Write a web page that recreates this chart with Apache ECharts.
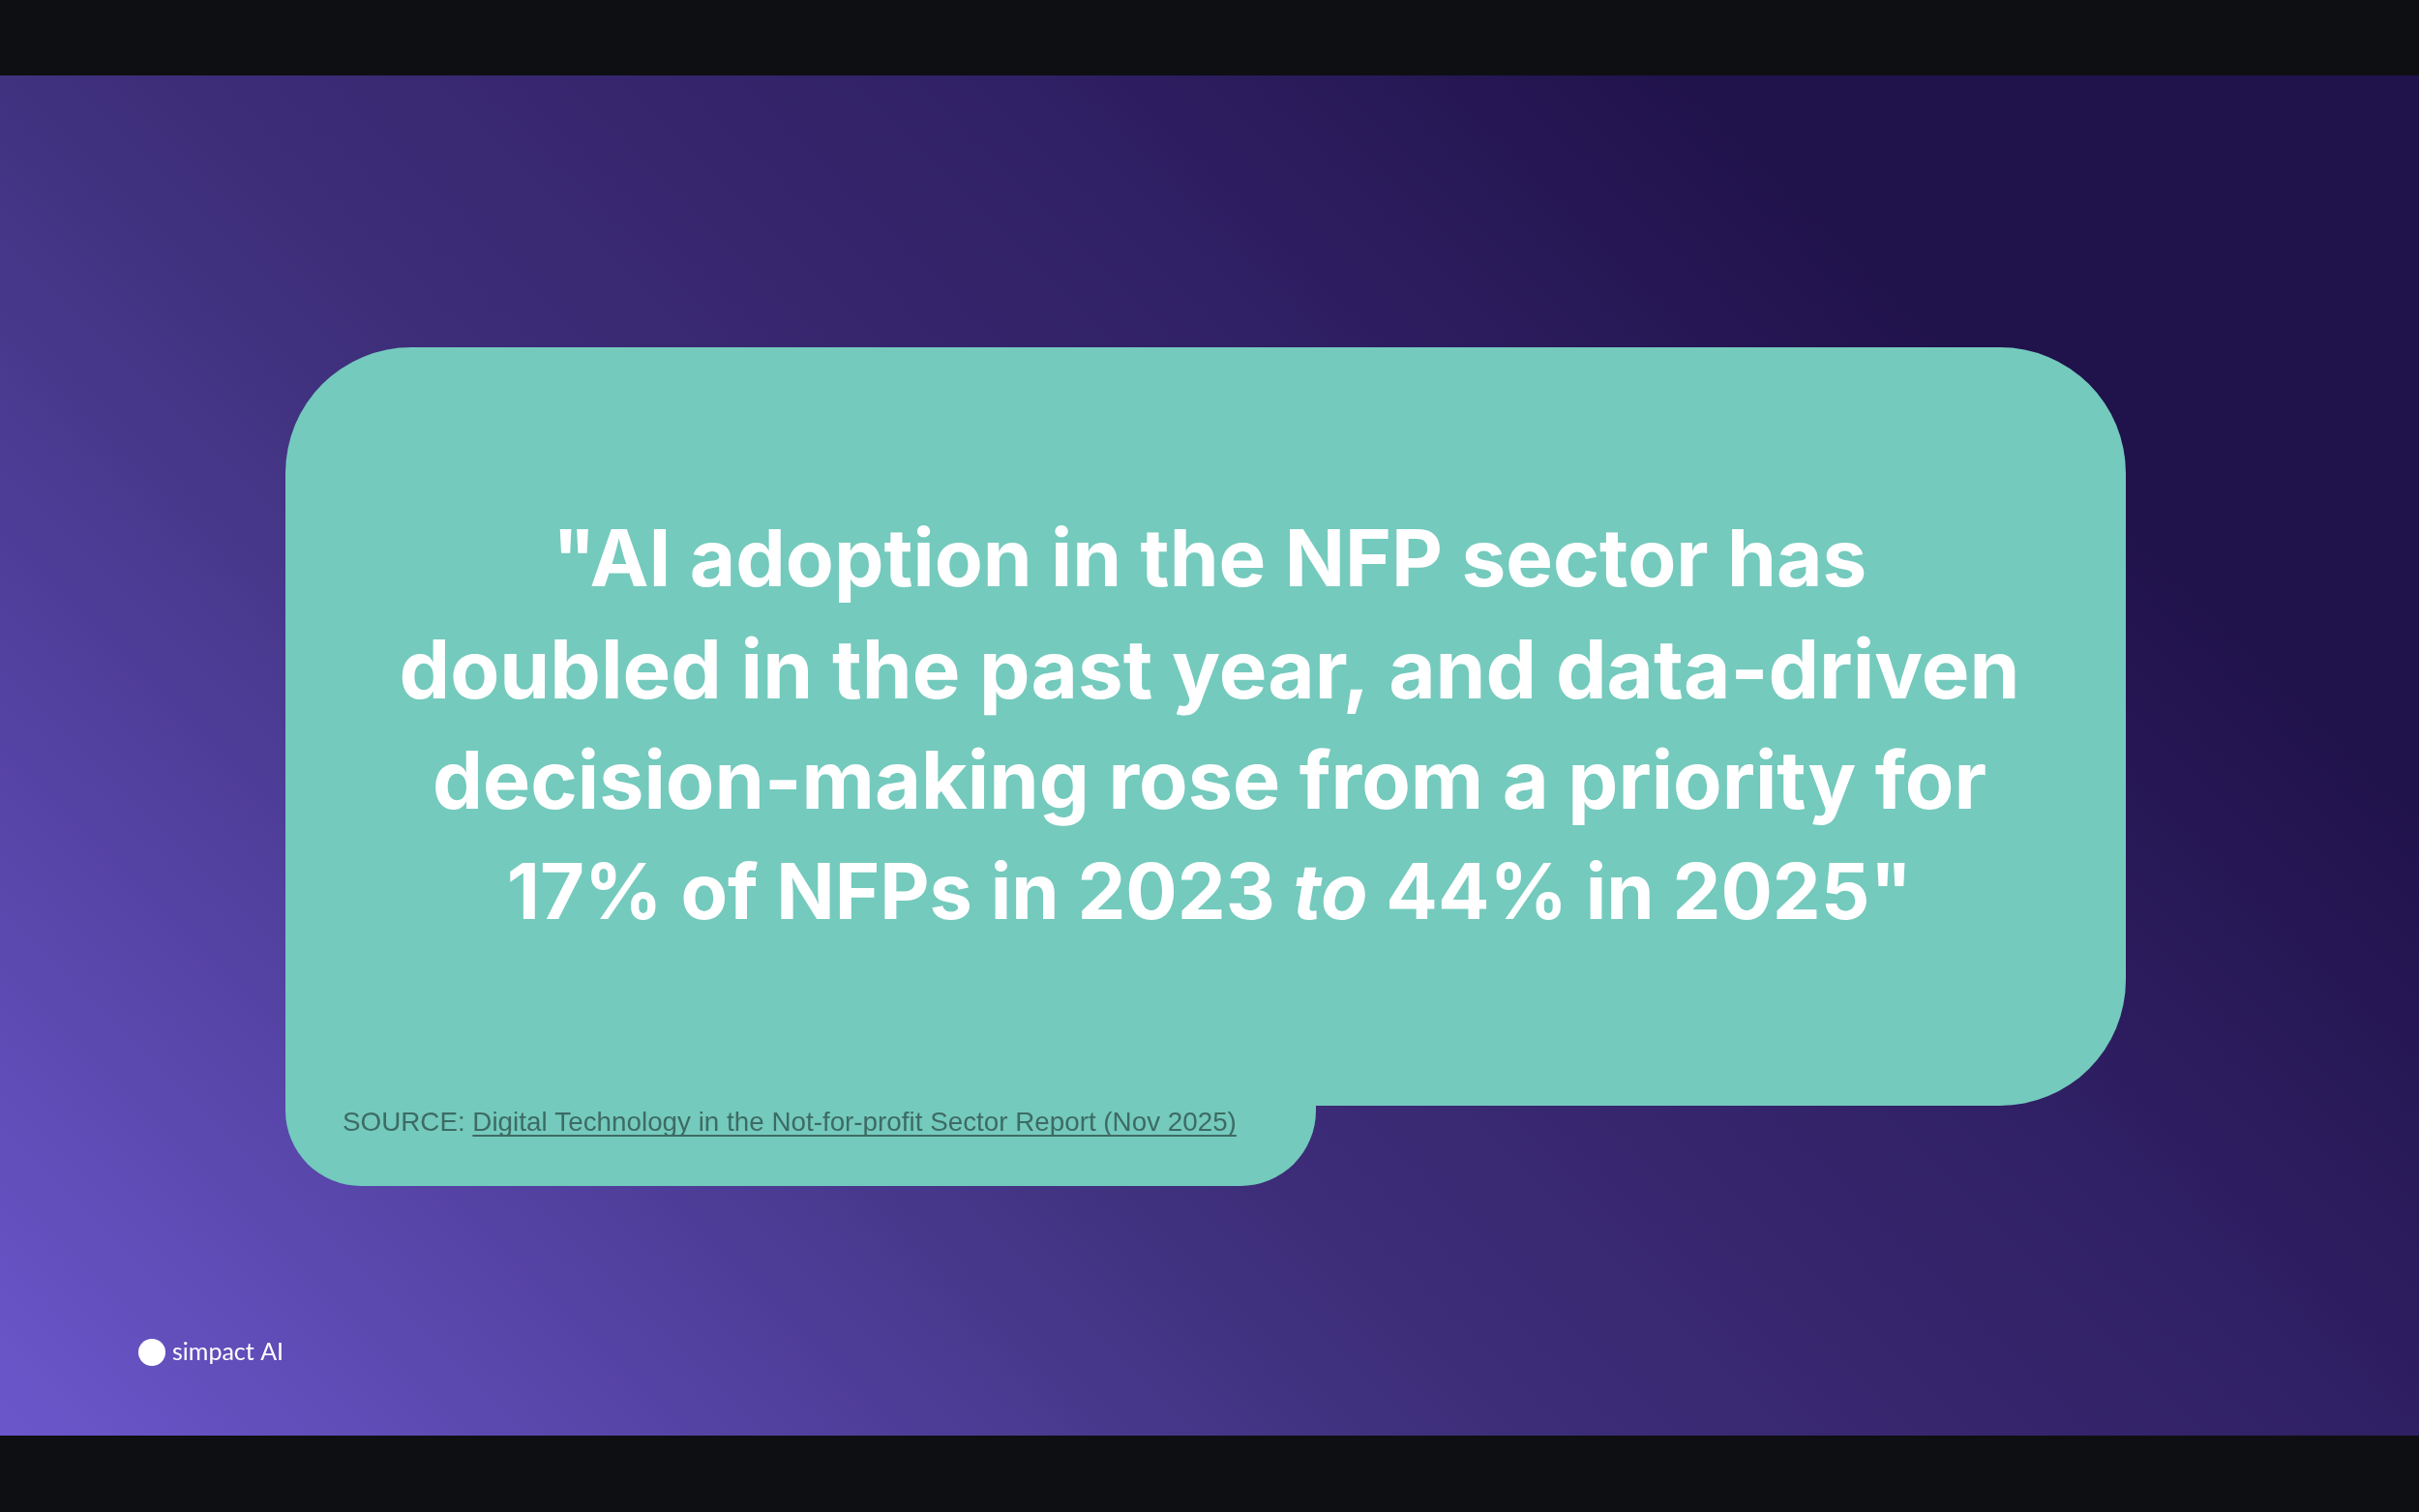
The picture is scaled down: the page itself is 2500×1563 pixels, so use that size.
<!DOCTYPE html>
<html>
<head>
<meta charset="utf-8">
<script src="https://cdn.jsdelivr.net/npm/echarts@6/dist/echarts.min.js"></script>
<style>
html,body{margin:0;padding:0;background:#0e0f13;}
#chart{width:2500px;height:1563px;}
</style>
</head>
<body>
<div id="chart"></div>
<script>
// ---- content ----
const quoteLines = [
  '"AI adoption in the NFP sector has',
  'doubled in the past year, and data-driven',
  'decision-making rose from a priority for',
  '17% of NFPs in 2023 to 44% in 2025"'
];
const italicWord = 'to';          // italic word on the last line
const sourceLabel = 'SOURCE: ';
const sourceLink = 'Digital Technology in the Not-for-profit Sector Report (Nov 2025)';
const brandName = 'simpact AI';

// ---- helpers ----
const mctx = document.createElement('canvas').getContext('2d');
function measure(text, font) { mctx.font = font; return mctx.measureText(text).width; }

const W = 2500, H = 1563;
const quoteFamily = 'Inter, Lato, "Noto Sans", sans-serif';
const baseSize = 100 * 1675 / measure(quoteLines[1], 'bold 100px ' + quoteFamily);
const lineScale = [0.98, 1.0, 0.99, 0.95];
const quoteLH = 115;

const rich = {};
const richLines = quoteLines.map((line, i) => {
  const fs = +(baseSize * lineScale[i]).toFixed(2);
  rich['l' + i] = { fontSize: fs, fontWeight: 'bold', fontFamily: quoteFamily, fill: '#ffffff', lineHeight: quoteLH };
  rich['li' + i] = { fontSize: fs, fontWeight: 'bold', fontStyle: 'italic', fontFamily: quoteFamily, fill: '#ffffff', lineHeight: quoteLH };
  if (i === quoteLines.length - 1) {
    const parts = line.split(' ' + italicWord + ' ');
    return '{l' + i + '|' + parts[0] + ' }{li' + i + '|' + italicWord + '}{l' + i + '| ' + parts[1] + '}';
  }
  return '{l' + i + '|' + line + '}';
});

const srcFamily = '"Liberation Sans", Arial, sans-serif';
const srcFont = '27.8px ' + srcFamily;
const labelW = measure(sourceLabel, srcFont);
const linkW = measure(sourceLink, srcFont);
const srcX = 354, srcY = 1161;
const teal = '#74cabd';
const srcColor = '#3d6b64';

const chart = echarts.init(document.getElementById('chart'), null, {renderer: 'canvas', width: W, height: H});
chart.setOption({
  animation: false,
  graphic: {
    elements: [
      { type: 'rect', shape: {x: 0, y: 0, width: W, height: H}, style: {fill: '#0e0f13'}, z: 0 },
      { type: 'rect', shape: {x: 0, y: 78, width: W, height: 1406},
        style: { fill: {
          type: 'linear', x: 0, y: 1484, x2: 1580, y2: -96, global: true,
          colorStops: [
            {offset: 0, color: '#6b57cb'},
            {offset: 0.253, color: '#5341a0'},
            {offset: 0.445, color: '#40327f'},
            {offset: 0.506, color: '#3d2c78'},
            {offset: 0.79, color: '#2f1f63'},
            {offset: 1, color: '#20124b'}
          ]}}, z: 1 },
      // main card
      { type: 'rect', shape: {x: 295, y: 359, width: 1902, height: 784, r: [130, 130, 130, 0]},
        style: {fill: teal}, z: 2 },
      // source tab
      { type: 'rect', shape: {x: 295, y: 1140, width: 1065, height: 86, r: [0, 0, 78, 78]},
        style: {fill: teal}, z: 2 },
      // quote
      { type: 'text', x: 1250, y: 754, z: 3,
        style: {
          text: richLines.join('\n'),
          fill: '#ffffff',
          fontSize: baseSize, fontWeight: 'bold', fontFamily: quoteFamily,
          lineHeight: quoteLH,
          align: 'center', textAlign: 'center',
          verticalAlign: 'middle', textVerticalAlign: 'middle',
          rich: rich
        } },
      // source
      { type: 'text', x: srcX, y: srcY, z: 3,
        style: { text: sourceLabel, fill: srcColor, font: srcFont, align: 'left', textAlign: 'left', verticalAlign: 'middle', textVerticalAlign: 'middle' } },
      { type: 'text', x: srcX + labelW, y: srcY, z: 3,
        style: { text: sourceLink, fill: srcColor, font: srcFont, align: 'left', textAlign: 'left', verticalAlign: 'middle', textVerticalAlign: 'middle' } },
      { type: 'line', z: 3, shape: {x1: srcX + labelW, y1: 1174, x2: srcX + labelW + linkW, y2: 1174},
        style: {stroke: srcColor, lineWidth: 2} },
      // brand
      { type: 'circle', shape: {cx: 157, cy: 1398, r: 14}, style: {fill: '#ffffff'}, z: 3 },
      { type: 'text', x: 178, y: 1398, z: 3,
        style: { text: brandName, fill: '#ffffff', fontSize: 25, fontWeight: 'normal', fontFamily: 'Lato, Inter, sans-serif',
          align: 'left', textAlign: 'left', verticalAlign: 'middle', textVerticalAlign: 'middle' } },
      // bars
      { type: 'rect', shape: {x: 0, y: 0, width: W, height: 78}, style: {fill: '#0e0f13'}, z: 4 },
      { type: 'rect', shape: {x: 0, y: 1484, width: W, height: 79}, style: {fill: '#0e0f13'}, z: 4 }
    ]
  }
});
</script>
</body>
</html>
